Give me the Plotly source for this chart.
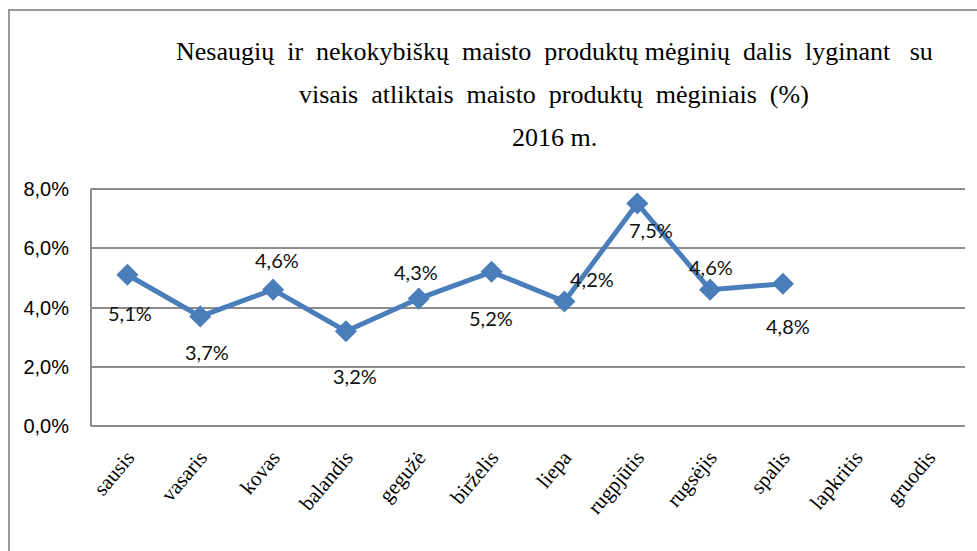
import plotly.graph_objects as go

months = ["sausis", "vasaris", "kovas", "balandis", "gegužė", "birželis",
          "liepa", "rugpjūtis", "rugsėjis", "spalis", "lapkritis", "gruodis"]
values = [5.1, 3.7, 4.6, 3.2, 4.3, 5.2, 4.2, 7.5, 4.6, 4.8, None, None]
y_ticks = [0, 2, 4, 6, 8]
y_tick_labels = ["0,0%", "2,0%", "4,0%", "6,0%", "8,0%"]
title_lines = ["Nesaugių  ir  nekokybiškų  maisto  produktų mėginių  dalis  lyginant   su",
               "visais  atliktais  maisto  produktų  mėginiais  (%)",
               "2016 m."]

# label offsets (px) per point
label_shift = [(3, -38), (7, -36), (4, 30), (9, -45), (-3, 27), (-1, -46),
               (28, 23), (14, -27), (1, 23), (5, -42)]

blue = "#4a7ebb"
grid = "#8c8c8c"

Y0, Y1 = -0.12, 8.12
TOP_PX, BOT_PX = 189, 426
px_per_unit = (BOT_PX - TOP_PX) / 8.0
top_margin = TOP_PX - (Y1 - 8) * px_per_unit
bot_px = BOT_PX + (0 - Y0) * px_per_unit
plot_h = bot_px - top_margin

fig = go.Figure()
fig.add_trace(go.Scatter(
    x=months, y=values, mode="lines+markers",
    line=dict(color=blue, width=5),
    marker=dict(symbol="diamond", size=17, color=blue),
    connectgaps=False, hoverinfo="skip", showlegend=False,
))

annotations = []
for i, v in enumerate(values):
    if v is None:
        continue
    dx, dy = label_shift[i]
    annotations.append(dict(
        x=months[i], y=v, xref="x", yref="y",
        text=f"{v:.1f}%".replace(".", ","), showarrow=False,
        xshift=dx, yshift=dy,
        font=dict(family="Lato", size=20, color="#111111"),
    ))

for j, (line, ypx) in enumerate(zip(title_lines, [52, 95, 138])):
    annotations.append(dict(
        x=(554 - 91) / 874, y=(bot_px - ypx) / plot_h, xref="paper", yref="paper",
        text=line, showarrow=False, xanchor="center", yanchor="middle",
        font=dict(family="Liberation Serif", size=26, color="#000000"),
    ))

fig.update_layout(
    width=977, height=551,
    margin=dict(l=91, r=12, t=top_margin, b=551 - bot_px, autoexpand=False),
    paper_bgcolor="white", plot_bgcolor="white",
    annotations=annotations,
    shapes=[dict(type="rect", xref="paper", yref="paper",
                 x0=(9 - 91) / 874, x1=1.2, y0=-1.0, y1=(bot_px - 11) / plot_h,
                 line=dict(color="#999999", width=2), fillcolor="rgba(0,0,0,0)",
                 layer="below"),
            dict(type="line", xref="paper", yref="y", x0=0, x1=0, y0=0, y1=8,
                 line=dict(color=grid, width=2), layer="below")],
)
fig.update_xaxes(
    type="category", categoryorder="array", categoryarray=months,
    range=[-0.5, 11.5], showgrid=False, showline=False, zeroline=False,
    tickangle=-50, ticks="", ticklabelstandoff=10, automargin=False,
    tickfont=dict(family="Liberation Serif", size=21, color="#000000"),
)
fig.update_yaxes(
    range=[Y0, Y1], tickvals=y_ticks, ticktext=y_tick_labels,
    showgrid=True, gridcolor=grid, gridwidth=2,
    showline=False, zeroline=False, ticks="", ticklabelstandoff=21, automargin=False,
    tickfont=dict(family="Liberation Sans Narrow, Liberation Sans", size=20, color="#000000"),
)

fig.write_html("out.html", config={"displayModeBar": False},
               post_script="document.body.style.margin='0px';")
